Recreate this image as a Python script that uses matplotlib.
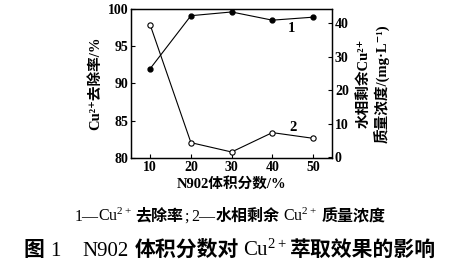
import matplotlib
matplotlib.use("Agg")
import matplotlib.pyplot as plt

plt.rcParams['font.family'] = ['Liberation Serif', 'Noto Sans CJK SC', 'DejaVu Serif']
plt.rcParams['mathtext.fontset'] = 'custom'
plt.rcParams['mathtext.rm'] = 'Liberation Serif'
plt.rcParams['mathtext.default'] = 'regular'

x = [10, 20, 30, 40, 50]
removal = [92.0, 99.1, 99.6, 98.5, 98.9]      # Cu2+ removal rate, %
residual = [39.5, 4.3, 1.5, 7.3, 5.6]          # residual Cu2+ in water phase, mg/L

CU = r'$\mathrm{Cu}^{2+}$'


def text_row(fig, pieces, y, size):
    # pieces: (text, weight, gap in px after it); row is centred on the figure
    r = fig.canvas.get_renderer()
    objs, widths = [], []
    for s, w, gap in pieces:
        t = fig.text(0, y, s, fontsize=size, fontweight=w, ha='left', va='baseline')
        objs.append(t)
        widths.append(t.get_window_extent(r).width + gap)
    x0 = (fig.bbox.width - sum(widths)) / 2
    for t, wd in zip(objs, widths):
        t.set_x(x0 / fig.bbox.width)
        x0 += wd


fig = plt.figure(figsize=(4.6, 2.69), dpi=100)
ax = fig.add_axes([0.285, 0.4126, 0.437, 0.554])
ax2 = ax.twinx()

ax.plot(x, removal, color='black', lw=0.8, marker='o', ms=3.5,
        mfc='black', mec='black')
ax2.plot(x, residual, color='black', lw=0.8, marker='o', ms=3.8,
         mfc='white', mec='black', mew=0.8)

ax.set_xlim(5.3, 54.7)
ax.set_ylim(80, 100)
ax2.set_ylim(-0.3, 44.3)
ax.set_xticks(x)
ax.set_yticks([80, 85, 90, 95, 100])
ax2.set_yticks([0, 10, 20, 30, 40])

for a in (ax, ax2):
    a.tick_params(direction='in', length=3, width=0.8, labelsize=10, pad=2)
    for s in a.spines.values():
        s.set_linewidth(0.9)
    for lab in a.get_xticklabels() + a.get_yticklabels():
        lab.set_fontweight('bold')

ax.text(44.7, 97.4, '1', fontsize=10.5, fontweight='bold', ha='center', va='center')
ax.text(45.0, 84.1, '2', fontsize=10.5, fontweight='bold', ha='center', va='center')

ax.set_xlabel('N902体积分数/%', fontsize=10.5, fontweight='bold', labelpad=2)
ax.set_ylabel('Cu²⁺去除率/%', fontsize=10.5, fontweight='bold', labelpad=4)
ax2.set_ylabel('水相剩余Cu²⁺\n质量浓度/(mg·L⁻¹)', fontsize=10.5,
               fontweight='bold', rotation=90, labelpad=6, linespacing=1.25)

text_row(fig, [('1—', 'normal', 0), (CU, 'normal', 3), ('去除率', 'bold', 0),
               (';', 'normal', 3), ('2—', 'normal', 0), ('水相剩余', 'bold', 4),
               (CU, 'normal', 4), ('质量浓度', 'bold', 0)], 0.18, 11.5)
text_row(fig, [('图', 'bold', 5), ('1', 'normal', 22), ('N902', 'normal', 6),
               ('体积分数对', 'bold', 4), (CU, 'normal', 3),
               ('萃取效果的影响', 'bold', 0)], 0.048, 15)

fig.savefig('out.png', dpi=100)
